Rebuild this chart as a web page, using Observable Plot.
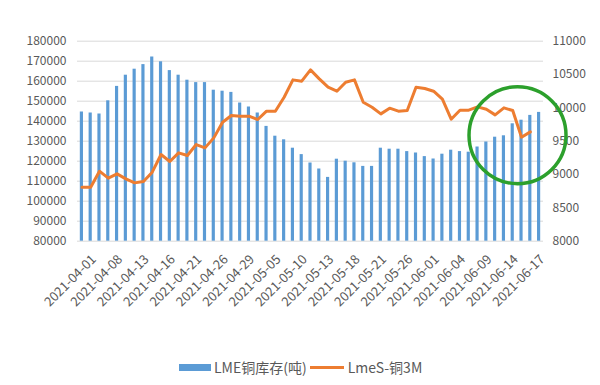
<!DOCTYPE html>
<html>
<head>
<meta charset="utf-8">
<script src="https://cdn.jsdelivr.net/npm/d3@7"></script>
<script src="https://cdn.jsdelivr.net/npm/@observablehq/plot@0.6"></script>
<style>
  html, body { margin: 0; padding: 0; background: #fff; }
  body { width: 600px; height: 385px; position: relative; overflow: hidden;
         font-family: "Noto Sans CJK SC", "Noto Sans", sans-serif; }
  #chart { position: absolute; left: 0; top: 0; }
  #legend { position: absolute; left: 179px; top: 357px; height: 20px; display: flex; align-items: center;
            font-size: 14px; color: #595959; white-space: nowrap; }
  #legend .sw { width: 32px; height: 7px; background: #5b9bd5; margin-right: 3px; }
  #legend .ln { width: 34px; height: 3px; background: #ed7d31; margin: 0 4px 0 3px; }
</style>
</head>
<body>
<div id="chart"></div>
<div id="legend"><span class="sw"></span><span>LME铜库存(吨)</span><span class="ln"></span><span>LmeS-铜3M</span></div>
<script>
const dates = ["2021-04-01","2021-04-06","2021-04-07","2021-04-08","2021-04-09","2021-04-12","2021-04-13","2021-04-14","2021-04-15","2021-04-16",
  "2021-04-19","2021-04-20","2021-04-21","2021-04-22","2021-04-23","2021-04-26","2021-04-27","2021-04-28","2021-04-29","2021-04-30",
  "2021-05-04","2021-05-05","2021-05-06","2021-05-07","2021-05-10","2021-05-11","2021-05-12","2021-05-13","2021-05-14","2021-05-17",
  "2021-05-18","2021-05-19","2021-05-20","2021-05-21","2021-05-24","2021-05-25","2021-05-26","2021-05-27","2021-05-28","2021-06-01",
  "2021-06-02","2021-06-03","2021-06-04","2021-06-07","2021-06-08","2021-06-09","2021-06-10","2021-06-11","2021-06-14","2021-06-15",
  "2021-06-16","2021-06-17","2021-06-18"];

// LME copper stocks (tonnes), left axis
const stocks = [144600,144100,143600,150200,157400,163000,166000,168300,172100,169700,
  165300,163000,160500,159300,159300,155500,155000,154400,149100,147100,
  144100,137400,132500,130700,126500,123300,119100,116100,111900,121000,
  120000,119200,117400,117400,126500,126000,126000,124800,124100,122300,
  121100,123500,125500,124800,124500,127100,129600,132000,132700,138700,
  140500,142900,144400];

// LmeS copper 3M price, right axis
const prices = [8810,8810,9050,8945,9010,8935,8875,8895,9035,9300,
  9195,9325,9285,9450,9400,9550,9785,9885,9875,9875,
  9825,9950,9950,10160,10420,10400,10570,10435,10310,10250,
  10385,10420,10085,10010,9910,9995,9950,9960,10310,10290,
  10250,10130,9830,9965,9965,10015,9980,9895,10000,9960,
  9560,9640];

const leftTicks = [80000,90000,100000,110000,120000,130000,140000,150000,160000,170000,180000];
const rightTicks = [8000,8500,9000,9500,10000,10500,11000];
const xTickLabels = ["2021-04-01","2021-04-08","2021-04-13","2021-04-16","2021-04-21","2021-04-26","2021-04-29","2021-05-05",
  "2021-05-10","2021-05-13","2021-05-18","2021-05-21","2021-05-26","2021-06-01","2021-06-04","2021-06-09","2021-06-14","2021-06-17"];

// highlighted region (annotation circle)
const highlight = [{date: "2021-06-16", price: 9590}];

const L0 = 80000, L1 = 180000, R0 = 8000, R1 = 11000;
const toLeft = r => L0 + (r - R0) * (L1 - L0) / (R1 - R0);
const fromLeft = v => R0 + (v - L0) * (R1 - R0) / (L1 - L0);

const stockData = dates.map((d, i) => ({date: d, value: stocks[i]}));
const priceData = prices.map((p, i) => ({date: dates[i], price: p}));

const chart = Plot.plot({
  width: 600,
  height: 350,
  marginTop: 40.7,
  marginBottom: 109.3,
  marginLeft: 77,
  marginRight: 57,
  style: {fontFamily: "'Noto Sans CJK SC','Noto Sans',sans-serif", fontSize: "12px", color: "#595959", background: "#fff", overflow: "visible"},
  x: {type: "band", domain: dates, paddingInner: 0.64, paddingOuter: 0.32},
  y: {domain: [L0, L1]},
  marks: [
    Plot.gridY(leftTicks, {stroke: "#d9d9d9", strokeOpacity: 1, strokeWidth: 1}),
    Plot.barY(stockData, {x: "date", y1: () => L0, y2: "value", fill: "#5b9bd5"}),
    Plot.line(priceData, {x: "date", y: d => toLeft(d.price), stroke: "#ed7d31", strokeWidth: 3, strokeLinejoin: "round", strokeLinecap: "round"}),
    Plot.axisY(leftTicks, {anchor: "left", tickSize: 0, tickPadding: 11, label: null, tickFormat: d => String(d)}),
    Plot.axisY(rightTicks.map(toLeft), {anchor: "right", tickSize: 0, tickPadding: 9, label: null, tickFormat: v => String(Math.round(fromLeft(v)))}),
    Plot.axisX(xTickLabels, {anchor: "bottom", tickSize: 0, tickRotate: -45, tickPadding: 16, dx: 12, label: null, fontSize: 13}),
    Plot.dot(highlight, {x: "date", y: d => toLeft(d.price), r: 48.5, dx: -4, stroke: "#2ca02c", strokeWidth: 3.5, fill: "none"})
  ]
});
document.getElementById("chart").appendChild(chart);
</script>
</body>
</html>
